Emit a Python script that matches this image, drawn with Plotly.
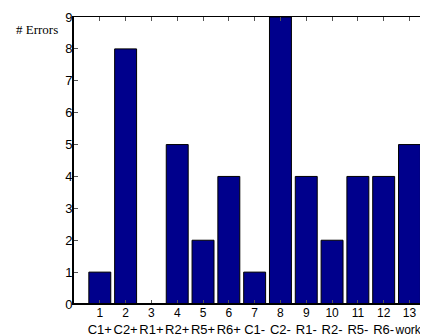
import plotly.graph_objects as go

positions = list(range(1, 14))
errors = [1, 8, 0, 5, 2, 4, 1, 9, 4, 2, 4, 4, 5]
case_labels = ["C1+", "C2+", "R1+", "R2+", "R5+", "R6+", "C1-", "C2-", "R1-", "R2-", "R5-", "R6-", "works"]
y_ticks = list(range(0, 10))

tick_text = []
for p, c in zip(positions, case_labels):
    name = c if c != "works" else f"<span style='font-size:12px'>&nbsp;{c}</span>"
    tick_text.append(f"<span style='font-size:12px'>{p}</span><br>{name}")

fig = go.Figure()
fig.add_trace(go.Bar(
    x=positions, y=errors, width=0.85,
    marker=dict(color="#00008C", line=dict(color="black", width=1)),
))

fig.update_layout(
    width=428, height=335,
    margin=dict(l=66, r=0, t=9, b=39),
    plot_bgcolor="white", paper_bgcolor="white",
    showlegend=False,
    font=dict(family="Liberation Sans, Arial, sans-serif", size=13, color="black"),
    xaxis=dict(
        range=[0, 13.95], tickmode="array", tickvals=positions, ticktext=tick_text,
        tickangle=0, ticklabelstandoff=-4,
        ticks="inside", ticklen=4, tickcolor="#555", showline=True, linecolor="black",
        linewidth=1, mirror="ticks", showgrid=False, zeroline=False,
    ),
    yaxis=dict(
        range=[0, 9], tickmode="array", tickvals=y_ticks,
        ticks="inside", ticklen=4, tickcolor="#555", showline=True, linecolor="black",
        linewidth=2, mirror="ticks", showgrid=False, zeroline=False, ticklabelstandoff=-3,
    ),
    annotations=[dict(
        text="# Errors", xref="paper", yref="paper", x=-0.039, y=0.958,
        xanchor="right", yanchor="middle", showarrow=False,
        font=dict(family="Liberation Serif, Times New Roman, serif", size=13, color="black"),
    )],
)
fig.add_shape(type="line", xref="paper", yref="y", x0=0, x1=1, y0=0, y1=0,
              line=dict(color="black", width=2))

fig.write_html("out.html")
